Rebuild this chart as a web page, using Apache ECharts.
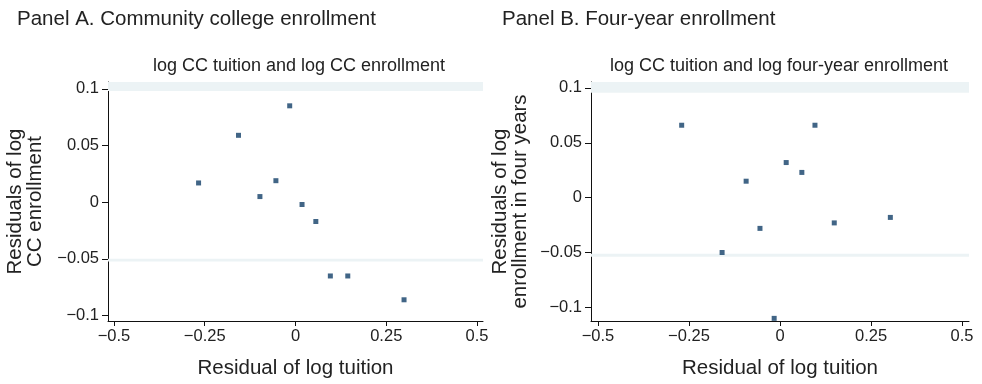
<!DOCTYPE html>
<html>
<head>
<meta charset="utf-8">
<script src="https://cdn.jsdelivr.net/npm/echarts@6/dist/echarts.min.js"></script>
<style>
  html, body { margin: 0; padding: 0; background: #fff; }
  #chart { width: 982px; height: 384px; }
</style>
</head>
<body>
<div id="chart"></div>
<script>
// Residual pairs (x = residual of log tuition, y = residual of log enrollment)
const ccTuitionResid = [-0.267, -0.157, -0.098, -0.054, -0.016, 0.018, 0.056, 0.096, 0.144, 0.299];
const ccEnrollResid  = [ 0.017,  0.059,  0.005,  0.019,  0.085, -0.002, -0.017, -0.065, -0.065, -0.086];

const fyTuitionResid = [-0.270, -0.159, -0.093, -0.055, -0.016, 0.017, 0.060, 0.096, 0.149, 0.303];
const fyEnrollResid  = [ 0.066, -0.050,  0.015, -0.028, -0.110, 0.032, 0.023, 0.066, -0.023, -0.018];

const xTicks  = [-0.5, -0.25, 0, 0.25, 0.5];
const yTicksA = [-0.1, -0.05, 0, 0.05, 0.1];
const yTicksB = [-0.1, -0.05, 0, 0.05, 0.1];

const FONT = 'Liberation Sans, Arial, Helvetica, sans-serif';
const INK = '#222';
const DOT = '#123f68';

const fmt = v => String(v).replace('-', '\u2212');
const pairs = (xs, ys) => xs.map((x, i) => [x, ys[i]]);

function xAxisCfg(grid, min, max) {
  return {
    type: 'value', gridIndex: grid, min, max,
    name: 'Residual of log tuition', nameLocation: 'middle', nameGap: 37,
    nameTextStyle: { fontFamily: FONT, fontSize: 20.5, color: INK },
    axisLine: { show: true, onZero: false, lineStyle: { color: '#111', width: 1 } },
    axisTick: { show: true, length: 5, customValues: xTicks, lineStyle: { color: '#111' } },
    axisLabel: { customValues: xTicks, formatter: fmt, fontFamily: FONT, fontSize: 16.5, color: INK, margin: 7 },
    splitLine: { show: false }
  };
}

function yAxisCfg(grid, min, max, ticks, name, gap) {
  return {
    type: 'value', gridIndex: grid, min, max,
    name, nameLocation: 'middle', nameGap: gap, nameRotate: 90,
    nameTextStyle: { fontFamily: FONT, fontSize: 20.5, color: INK, lineHeight: 20 },
    axisLine: { show: true, onZero: false, lineStyle: { color: '#111', width: 1 } },
    axisTick: { show: true, length: 6, customValues: ticks, lineStyle: { color: '#111' } },
    axisLabel: { customValues: ticks, formatter: fmt, fontFamily: FONT, fontSize: 16.5, color: INK, margin: 9 },
    splitLine: { show: false }
  };
}

// light reference bands, drawn underneath the points
function bands(idx, bandTop, bandLine) {
  return {
    type: 'scatter', xAxisIndex: idx, yAxisIndex: idx, data: [], z: 1, silent: true,
    markArea: {
      silent: true,
      itemStyle: { color: '#ecf3f5' },
      data: [
        [{ yAxis: bandTop[0] }, { yAxis: bandTop[1] }],
        [{ yAxis: bandLine[0] }, { yAxis: bandLine[1] }]
      ]
    }
  };
}

function points(idx, data) {
  return {
    type: 'scatter', xAxisIndex: idx, yAxisIndex: idx, z: 3,
    data, symbol: 'rect', symbolSize: 5,
    itemStyle: { color: DOT }
  };
}

const chart = echarts.init(document.getElementById('chart'), null, { renderer: 'canvas' });
chart.setOption({
  animation: false,
  backgroundColor: '#fff',
  title: [
    { text: 'Panel A. Community college enrollment', left: 12, top: 4,
      textStyle: { fontFamily: FONT, fontSize: 20.5, fontWeight: 'normal', color: INK } },
    { text: 'Panel B. Four-year enrollment', left: 497, top: 4,
      textStyle: { fontFamily: FONT, fontSize: 20.5, fontWeight: 'normal', color: INK } },
    { text: 'log CC tuition and log CC enrollment', left: 294, top: 52, textAlign: 'center',
      textStyle: { fontFamily: FONT, fontSize: 18, fontWeight: 'normal', color: INK } },
    { text: 'log CC tuition and log four-year enrollment', left: 774, top: 52, textAlign: 'center',
      textStyle: { fontFamily: FONT, fontSize: 18, fontWeight: 'normal', color: INK } }
  ],
  grid: [
    { left: 108, top: 82, width: 375, height: 240 },
    { left: 591, top: 82, width: 378, height: 240 }
  ],
  xAxis: [
    xAxisCfg(0, -0.5165, 0.5165),
    xAxisCfg(1, -0.519, 0.519)
  ],
  yAxis: [
    yAxisCfg(0, -0.1047, 0.106, yTicksA, 'Residuals of log\nCC enrollment', 63),
    yAxisCfg(1, -0.1124, 0.1054, yTicksB, 'Residuals of log\nenrollment in four years', 61)
  ],
  series: [
    bands(0, [0.098, 0.106], [-0.0498, -0.0522]),
    points(0, pairs(ccTuitionResid, ccEnrollResid)),
    bands(1, [0.0955, 0.1054], [-0.0512, -0.0538]),
    points(1, pairs(fyTuitionResid, fyEnrollResid))
  ]
});
</script>
</body>
</html>
